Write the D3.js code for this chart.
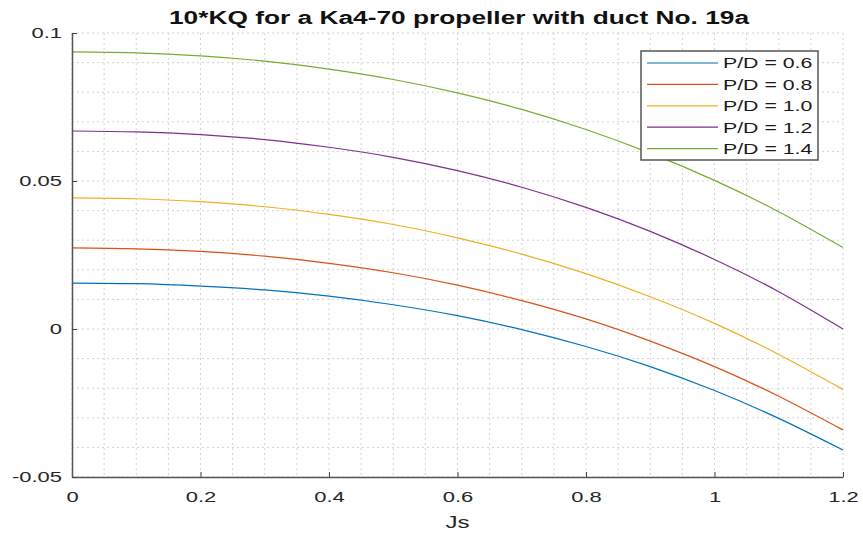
<!DOCTYPE html>
<html>
<head>
<meta charset="utf-8">
<script src="https://cdn.jsdelivr.net/npm/d3@7"></script>
<style>
  body { margin: 0; background: #fff; }
  svg { font-family: "Liberation Sans", Arial, sans-serif; }
</style>
</head>
<body>
<div class="kq_chart"></div>
<script>
// data
var js = [0, 0.1, 0.2, 0.3, 0.4, 0.5, 0.6, 0.7, 0.8, 0.9, 1.0, 1.1, 1.2];
var pd06 = [0.0155, 0.0153, 0.0145, 0.0132, 0.0111, 0.0082, 0.0045, -0.0002, -0.0059, -0.0127, -0.0208, -0.0302, -0.0409];
var pd08 = [0.0274, 0.0271, 0.0262, 0.0246, 0.0222, 0.019, 0.0148, 0.0096, 0.0034, -0.0041, -0.0127, -0.0227, -0.0341];
var pd10 = [0.0443, 0.044, 0.043, 0.0413, 0.0387, 0.0353, 0.0308, 0.0253, 0.0187, 0.0109, 0.0019, -0.0086, -0.0204];
var pd12 = [0.0669, 0.0666, 0.0657, 0.064, 0.0614, 0.058, 0.0535, 0.0479, 0.0411, 0.033, 0.0235, 0.0126, 0.0];
var pd14 = [0.0936, 0.0933, 0.0923, 0.0905, 0.0878, 0.0843, 0.0798, 0.0742, 0.0674, 0.0594, 0.0502, 0.0396, 0.0275];
var seriesNames = ["P/D = 0.6", "P/D = 0.8", "P/D = 1.0", "P/D = 1.2", "P/D = 1.4"];
var xTicks = [0, 0.2, 0.4, 0.6, 0.8, 1, 1.2];
var yTicks = [-0.05, 0, 0.05, 0.1];
var colors = ["#0072BD", "#D95319", "#EDB120", "#7E2F8E", "#77AC30"];

var allSeries = [pd06, pd08, pd10, pd12, pd14];

// the source picture is stretched sideways, so text gets a horizontal scale
var stretch = 1.42;

var margin = { top: 33, right: 20, bottom: 58, left: 72 },
  width = 863 - margin.left - margin.right,
  height = 535 - margin.top - margin.bottom;

var svg = d3
  .select(".kq_chart")
  .append("svg")
  .attr("width", 863)
  .attr("height", 535);

var x = d3.scaleLinear().domain([0, 1.2]).range([0, width]);
var y = d3.scaleLinear().domain([-0.05, 0.1]).range([height, 0]);

var chart = svg
  .append("g")
  .attr("transform", "translate(" + margin.left + "," + margin.top + ")");

// minor grid
var xMinor = d3.range(0, 1.2001, 0.05);
var yMinor = d3.range(-0.05, 0.1001, 0.01);

chart
  .append("g")
  .selectAll("line")
  .data(xMinor)
  .enter()
  .append("line")
  .attr("x1", function (d) { return x(d); })
  .attr("x2", function (d) { return x(d); })
  .attr("y1", 0)
  .attr("y2", height)
  .style("stroke", "#d2d2d2")
  .style("stroke-width", "1px")
  .style("stroke-dasharray", "2,3");

chart
  .append("g")
  .selectAll("line")
  .data(yMinor)
  .enter()
  .append("line")
  .attr("x1", 0)
  .attr("x2", width)
  .attr("y1", function (d) { return y(d); })
  .attr("y2", function (d) { return y(d); })
  .style("stroke", "#d2d2d2")
  .style("stroke-width", "1px")
  .style("stroke-dasharray", "2,3");

// curves
var line = d3
  .line()
  .x(function (d) { return x(d[0]); })
  .y(function (d) { return y(d[1]); })
  .curve(d3.curveNatural);

allSeries.forEach(function (vals, i) {
  chart
    .append("path")
    .datum(d3.zip(js, vals))
    .attr("d", line)
    .style("fill", "none")
    .style("stroke", colors[i])
    .style("stroke-width", "1.2px");
});

// axes
var xAxis = chart
  .append("g")
  .attr("class", "x axis")
  .attr("transform", "translate(0," + height + ")")
  .call(d3.axisBottom(x).tickValues(xTicks).tickSizeInner(-5).tickSizeOuter(0).tickPadding(14)
    .tickFormat(function (d) { return String(+d.toFixed(1)); }));

var yAxis = chart
  .append("g")
  .attr("class", "y axis")
  .call(d3.axisLeft(y).tickValues(yTicks).tickSizeInner(-5).tickSizeOuter(0).tickPadding(7)
    .tickFormat(function (d) { return String(+d.toFixed(2)); }));

[xAxis, yAxis].forEach(function (ax) {
  ax.select(".domain").style("stroke", "#555").style("stroke-width", "1.5px");
  ax.selectAll(".tick line").style("stroke", "#444");
  ax.selectAll(".tick text")
    .attr("font-size", 15.5)
    .attr("fill", "#262626")
    .attr("font-family", "Liberation Sans, Arial, sans-serif")
    .attr("transform", "scale(" + stretch + ",1)");
});

// title and axis label
svg
  .append("text")
  .attr("x", 459)
  .attr("y", 24)
  .attr("text-anchor", "middle")
  .attr("textLength", 580)
  .attr("lengthAdjust", "spacingAndGlyphs")
  .style("font-size", "17.5px")
  .style("font-weight", "bold")
  .style("fill", "#111")
  .text("10*KQ for a Ka4-70 propeller with duct No. 19a");

svg
  .append("text")
  .attr("transform", "translate(" + (margin.left + width / 2) + ",528) scale(" + stretch + ",1)")
  .attr("text-anchor", "middle")
  .style("font-size", "17px")
  .style("fill", "#262626")
  .text("Js");

// legend
var legend = svg.append("g").attr("transform", "translate(641,51)");
legend
  .append("rect")
  .attr("width", 177)
  .attr("height", 109)
  .style("fill", "#fff")
  .style("stroke", "#555")
  .style("stroke-width", "1.5px");

var rows = legend
  .selectAll(".row")
  .data(seriesNames)
  .enter()
  .append("g")
  .attr("class", "row")
  .attr("transform", function (d, i) { return "translate(0," + (12 + i * 21.4) + ")"; });

rows
  .append("line")
  .attr("x1", 6)
  .attr("x2", 77)
  .attr("y1", 0)
  .attr("y2", 0)
  .style("stroke", function (d, i) { return colors[i]; })
  .style("stroke-width", "1.2px");

rows
  .append("text")
  .attr("transform", "translate(82,0) scale(" + stretch + ",1)")
  .attr("dy", ".36em")
  .style("font-size", "15px")
  .style("fill", "#1a1a1a")
  .text(function (d) { return d; });
</script>
</body>
</html>
